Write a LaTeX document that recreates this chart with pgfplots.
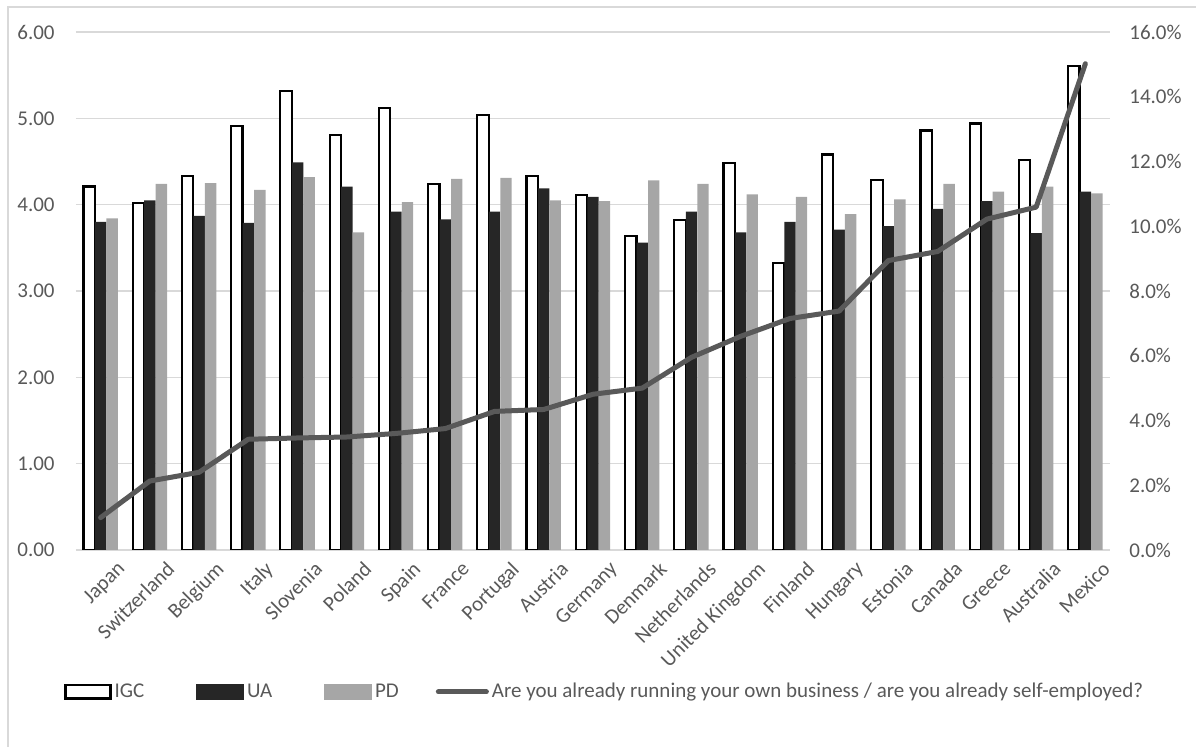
\documentclass[border=0pt]{standalone}
\usepackage{pgfplots}
\pgfplotsset{compat=1.18}
\usepackage{fontspec}
\setmainfont{Carlito}
\definecolor{txt}{HTML}{595959}
\definecolor{gridc}{HTML}{D9D9D9}
\definecolor{uac}{HTML}{262626}
\definecolor{pdc}{HTML}{A6A6A6}
\definecolor{linec}{HTML}{595959}
\newcommand{\lf}{\fontsize{10.5}{12.6}\selectfont}
\pgfplotstableread{
idx IGC UA PD SE
0 4.21 3.80 3.84 1.00
1 4.02 4.05 4.24 2.13
2 4.33 3.87 4.25 2.40
3 4.91 3.79 4.17 3.42
4 5.32 4.49 4.32 3.46
5 4.81 4.21 3.68 3.49
6 5.12 3.92 4.03 3.60
7 4.24 3.83 4.30 3.75
8 5.04 3.92 4.31 4.28
9 4.33 4.19 4.05 4.34
10 4.11 4.09 4.04 4.81
11 3.64 3.56 4.28 5.00
12 3.82 3.92 4.24 5.95
13 4.48 3.68 4.12 6.60
14 3.32 3.80 4.09 7.15
15 4.58 3.71 3.89 7.38
16 4.29 3.75 4.06 8.94
17 4.86 3.95 4.24 9.22
18 4.94 4.04 4.15 10.22
19 4.52 3.67 4.21 10.59
20 5.61 4.15 4.13 15.02
}\datatable
\begin{document}
\lf
\begin{tikzpicture}
\useasboundingbox (0,0) rectangle (598pt,373.5pt);
\draw[gridc, line width=0.75pt] (4pt,-10pt) -- (4pt,370pt) -- (610pt,370pt);
\begin{axis}[
  at={(38pt,98.5pt)}, anchor=south west,
  scale only axis, width=517pt, height=259pt,
  xmin=-0.5, xmax=20.5, ymin=0, ymax=6,
  axis line style={draw=none},
  major tick length=0pt,
  ymajorgrids, grid style={gridc, line width=0.75pt},
  ytick={0,1,...,6},
  yticklabel={\pgfmathprintnumber[fixed,fixed zerofill,precision=2]{\tick}},
  xtick={0,...,20},
  xticklabels={Japan,Switzerland,Belgium,Italy,Slovenia,Poland,Spain,France,Portugal,Austria,Germany,Denmark,Netherlands,United Kingdom,Finland,Hungary,Estonia,Canada,Greece,Australia,Mexico},
  /pgf/number format/assume math mode=true,
  tick label style={font=\lf, text=txt},
  yticklabel style={xshift=-7pt},
  xticklabel style={rotate=45, anchor=north east, inner sep=0pt, yshift=-9pt, xshift=2pt},
  ybar, bar width=5.7pt,
  legend columns=4,
  legend style={at={(-0.0116,-0.2741)}, anchor=west, draw=none, fill=none,
    font=\lf, text=txt, inner sep=0pt,
    nodes={inner sep=1.5pt},
    /tikz/every even column/.style={},
    /tikz/column 2/.style={column sep=24.5pt},
    /tikz/column 4/.style={column sep=24.5pt},
    /tikz/column 6/.style={column sep=17pt}},
  legend cell align=left,
]
\addplot[draw=black, fill=white, line width=1.1pt, bar shift=-5.75pt, forget plot] table[x=idx,y=IGC]{\datatable};
\addplot[draw=none, fill=uac, bar shift=0pt, forget plot] table[x=idx,y=UA]{\datatable};
\addplot[draw=none, fill=pdc, bar shift=5.75pt, forget plot] table[x=idx,y=PD]{\datatable};
\addlegendimage{legend image code/.code={\draw[black, line width=1.1pt, fill=white] (0pt,-3.3pt) rectangle (22.5pt,3.3pt);}}
\addlegendentry{IGC}
\addlegendimage{legend image code/.code={\fill[uac] (-0.5pt,-3.8pt) rectangle (23pt,3.8pt);}}
\addlegendentry{UA}
\addlegendimage{legend image code/.code={\fill[pdc] (-0.5pt,-3.8pt) rectangle (23pt,3.8pt);}}
\addlegendentry{PD}
\addlegendimage{legend image code/.code={\draw[linec, line width=2.5pt, line cap=round] (0pt,0pt) -- (24pt,0pt);}}
\addlegendentry{Are you already running your own business / are you already self-employed?}
\end{axis}
\begin{axis}[
  at={(38pt,98.5pt)}, anchor=south west,
  scale only axis, width=517pt, height=259pt,
  xmin=-0.5, xmax=20.5, ymin=0, ymax=16,
  axis line style={draw=none},
  major tick length=0pt,
  axis y line*=right, hide x axis,
  ytick={0,2,...,16},
  yticklabel={\pgfmathprintnumber[fixed,fixed zerofill,precision=1]{\tick}\%},
  /pgf/number format/assume math mode=true,
  tick label style={font=\lf, text=txt},
  yticklabel style={xshift=6pt},
]
\addplot[linec, line width=2.5pt, line join=round, line cap=round, mark=none] table[x=idx,y=SE]{\datatable};
\end{axis}
\end{tikzpicture}
\end{document}
